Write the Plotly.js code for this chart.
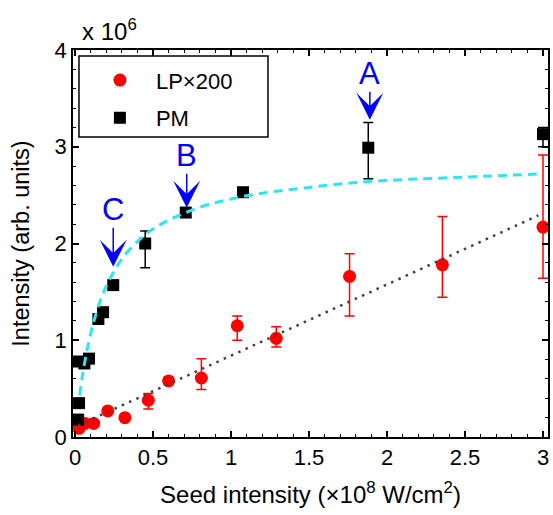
<!DOCTYPE html>
<html><head><meta charset="utf-8">
<script src="https://cdn.plot.ly/plotly-3.0.1.min.js"></script>
<style>html,body{margin:0;padding:0;background:#fff}#chart{width:553px;height:515px}</style>
</head><body><div id="chart"></div>
<script>
// LP x200 (red circles)
const lpX = [0.0, 0.026, 0.064, 0.12, 0.21, 0.32, 0.47, 0.60, 0.81, 1.04, 1.29, 1.76, 2.355, 3.0];
const lpY = [0.16, 0.09, 0.14, 0.14, 0.27, 0.20, 0.38, 0.58, 0.61, 1.15, 1.02, 1.66, 1.78, 2.17];
const lpErrPlus  = [0, 0, 0, 0, 0, 0, 0.07, 0.04, 0.20, 0.10, 0.12, 0.235, 0.50, 0.745];
const lpErrMinus = [0, 0, 0, 0, 0, 0, 0.09, 0.04, 0.12, 0.15, 0.09, 0.41, 0.335, 0.53];
// PM (black squares)
const pmX = [0.02, 0.026, 0.02, 0.06, 0.09, 0.15, 0.18, 0.245, 0.45, 0.71, 1.077, 1.88, 3.0];
const pmY = [0.18, 0.35, 0.78, 0.76, 0.81, 1.22, 1.29, 1.57, 2.0, 2.32, 2.53, 2.99, 3.13];
const pmErrPlus  = [0, 0, 0, 0, 0, 0, 0, 0, 0.13, 0, 0, 0.26, 0.07];
const pmErrMinus = [0, 0, 0, 0, 0, 0, 0, 0, 0.25, 0, 0, 0.32, 0.13];
// cyan dashed fit
const fitPmX = [0.03, 0.05, 0.08, 0.12, 0.16, 0.2, 0.25, 0.3, 0.4, 0.5, 0.6, 0.71, 0.85, 1.0, 1.2, 1.5, 1.8, 2.1, 2.4, 2.7, 3.0];
const fitPmY = [0.43, 0.66, 0.92, 1.19, 1.40, 1.56, 1.71, 1.84, 2.02, 2.15, 2.24, 2.32, 2.40, 2.46, 2.52, 2.58, 2.63, 2.66, 2.68, 2.70, 2.72];
// dotted linear fit of LP
const fitLpX = [0.02, 2.97];
const fitLpY = [0.12, 2.29];
// ticks
const xTicks = [0, 0.5, 1, 1.5, 2, 2.5, 3];
const xTickText = ['0', '0.5', '1', '1.5', '2', '2.5', '3'];
const yTicks = [0, 1, 2, 3, 4];
const yTickText = ['0', '1', '2', '3', '4'];
// annotations
const markLabels = ['A', 'B', 'C'];
const markX = [1.89, 0.716, 0.245];
const markY = [3.28, 2.37, 1.76];

const FONT = 'Arial, "Liberation Sans", sans-serif';
const BLUE = '#0000ff';

const traces = [
  {type:'scatter', mode:'markers', name:'LP×200', x:lpX, y:lpY, legendgroup:'lp',
   marker:{symbol:'circle', size:13, color:'#ff0000'},
   error_y:{type:'data', symmetric:false, array:lpErrPlus, arrayminus:lpErrMinus, color:'#ff0000', thickness:1.5, width:5}},
  {type:'scatter', mode:'markers', name:'PM', x:pmX, y:pmY, legendgroup:'pm',
   marker:{symbol:'square', size:12, color:'#000000'},
   error_y:{type:'data', symmetric:false, array:pmErrPlus, arrayminus:pmErrMinus, color:'#000000', thickness:1.5, width:5}},
  {type:'scatter', mode:'lines', x:fitPmX, y:fitPmY, showlegend:false, line:{color:'#2ee6f2', width:3, dash:'9px,6px', shape:'spline'}},
  {type:'scatter', mode:'lines', x:fitLpX, y:fitLpY, showlegend:false, line:{color:'#404040', width:2.5, dash:'2.5px,5.5px'}}
];

const annotations = markLabels.map((t, i) => ({
  xref:'x', yref:'y', x:markX[i], y:markY[i], text:t, showarrow:true,
  ax:0, ay:[-46, -52, -57][i], arrowhead:3, arrowsize:3, arrowwidth:1.5, arrowcolor:BLUE,
  font:{family:FONT, size:31, color:BLUE}, standoff:0, borderpad:0
}));
annotations.push({xref:'paper', yref:'paper', x:0.014, y:1.008, xanchor:'left', yanchor:'bottom',
  text:'x 10<sup>6</sup>', showarrow:false, font:{family:FONT, size:24, color:'#000'}});

const axisCommon = {
  showline:true, linewidth:1.5, linecolor:'#000', mirror:'ticks', showgrid:false, zeroline:false,
  ticks:'inside', ticklen:6, tickwidth:1.5, tickcolor:'#000', tickmode:'array',
  tickfont:{family:FONT, size:22, color:'#000'}
};

const layout = {
  width:553, height:515, margin:{l:73, r:5, t:50, b:78},
  paper_bgcolor:'#fff', plot_bgcolor:'#fff', font:{family:FONT, color:'#000'},
  xaxis:Object.assign({}, axisCommon, {range:[-0.0128, 3.032], tickvals:xTicks, ticktext:xTickText,
    minor:{tickmode:'linear', tick0:0, dtick:0.1, ticks:'inside', ticklen:3.5, tickwidth:1, tickcolor:'#000'},
    title:{text:'Seed intensity (×10<sup>8</sup> W/cm<sup>2</sup>)', font:{family:FONT, size:24, color:'#000'}, standoff:17}}),
  yaxis:Object.assign({}, axisCommon, {range:[0, 4], tickvals:yTicks, ticktext:yTickText,
    minor:{tickmode:'linear', tick0:0, dtick:0.2, ticks:'inside', ticklen:3.5, tickwidth:1, tickcolor:'#000'},
    title:{text:'Intensity (arb. units)', font:{family:FONT, size:23.5, color:'#000'}, standoff:18}}),
  showlegend:true,
  legend:{x:0.023, y:0.976, xanchor:'left', yanchor:'top', bgcolor:'rgba(0,0,0,0)', borderwidth:0,
    font:{family:FONT, size:22, color:'#000'}, itemwidth:62, tracegroupgap:6},
  shapes:[{type:'rect', xref:'paper', yref:'paper', x0:0.0126, x1:0.4105, y0:0.7752, y1:0.9845,
    line:{color:'#000', width:1.5}, fillcolor:'rgba(0,0,0,0)'}],
  annotations:annotations
};

Plotly.newPlot('chart', traces, layout, {displayModeBar:false, responsive:false});
</script></body></html>
